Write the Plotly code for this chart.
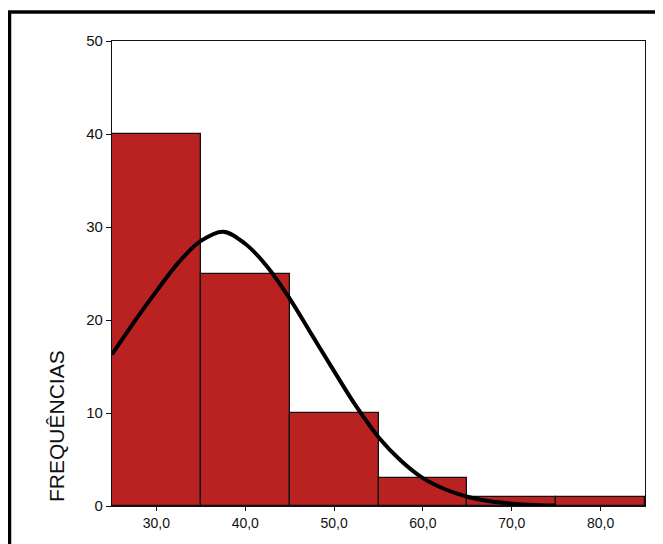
import plotly.graph_objects as go

# Histogram bins (centers) and frequencies
bin_centers = [30, 40, 50, 60, 70, 80]
frequencies = [40, 25, 10, 3, 1, 1]

# Fitted normal curve
curve_x = [25, 27.5, 30, 32.5, 35, 37.5, 40, 42.5, 45, 47.5, 50, 52.5, 55,
           57.5, 60, 62.5, 65, 67.5, 70, 72.5, 75]
curve_y = [16.3, 19.8, 23.1, 26.2, 28.5, 29.5, 28.2, 25.7, 22.3, 18.4, 14.5,
           10.7, 7.4, 4.9, 3.0, 1.8, 1.0, 0.5, 0.25, 0.1, 0.05]

x_tick_vals = [30, 40, 50, 60, 70, 80]
x_tick_text = ["30,0", "40,0", "50,0", "60,0", "70,0", "80,0"]
y_tick_vals = [0, 10, 20, 30, 40, 50]

FONT = "Liberation Sans, Arial, sans-serif"

fig = go.Figure()
fig.add_trace(go.Bar(
    x=bin_centers, y=frequencies, width=10,
    marker=dict(color="#BA2121", line=dict(color="#111111", width=1.3)),
    showlegend=False,
))
fig.add_trace(go.Scatter(
    x=curve_x, y=curve_y, mode="lines",
    line=dict(color="#000000", width=4, shape="spline", smoothing=1.0),
    showlegend=False,
))

# page body has an 8px margin, so figure coords = screen coords - 8
OFF = 8
W, H = 655, 536
L, R, T, B = 112 - OFF, 18, 41 - OFF, 38
pw, ph = W - L - R, H - T - B

def px(xs):
    return (xs - OFF - L) / pw

def py(ys):
    return (H - B - (ys - OFF)) / ph

fig.update_layout(
    width=W, height=H,
    margin=dict(l=L, r=R, t=T, b=B),
    paper_bgcolor="white", plot_bgcolor="white",
    font=dict(family=FONT, color="#111111", size=14),
    bargap=0,
    xaxis=dict(
        range=[25, 85], tickvals=x_tick_vals, ticktext=x_tick_text,
        showline=True, linecolor="#111111", linewidth=1.3, mirror=True,
        ticks="outside", ticklen=4, tickcolor="#111111",
        showgrid=False, zeroline=False, tickfont=dict(size=14),
    ),
    yaxis=dict(
        range=[0, 50], tickvals=y_tick_vals,
        showline=True, linecolor="#111111", linewidth=1.3, mirror=True,
        ticks="outside", ticklen=5, tickcolor="#111111",
        showgrid=False, zeroline=False, tickfont=dict(size=15),
    ),
    annotations=[dict(
        text="FREQUÊNCIAS", textangle=-90, showarrow=False,
        xref="paper", yref="paper", x=px(57), y=py(426),
        xanchor="center", yanchor="middle",
        font=dict(size=21, family=FONT, color="#111111"),
    )],
    shapes=[
        dict(type="line", xref="paper", yref="paper",
             x0=px(9.5), x1=px(9.5), y0=py(11), y1=py(560),
             line=dict(color="#000000", width=3.5)),
        dict(type="line", xref="paper", yref="paper",
             x0=px(8), x1=px(680), y0=py(12), y1=py(12),
             line=dict(color="#000000", width=3.5)),
    ],
)

fig.write_html("out.html")
